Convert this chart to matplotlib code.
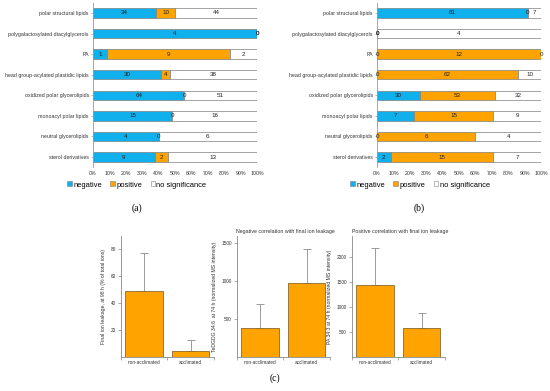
import matplotlib
matplotlib.use("Agg")
import matplotlib.pyplot as plt
from matplotlib.patches import Patch
import numpy as np

plt.rcParams['font.family'] = ['Liberation Sans', 'DejaVu Sans']

categories = ["polar structural lipids", "polygalactosylated diacylglycerols", "PA",
              "head group-acylated plastidic lipids", "oxidized polar glycerolipids",
              "monoacyl polar lipids", "neutral glycerolipids", "sterol derivatives"]
a_neg = [34, 4, 1, 30, 64, 15, 4, 9]
a_pos = [10, 0, 9, 4, 0, 0, 0, 2]
a_ns = [44, 0, 2, 38, 51, 16, 6, 13]
b_neg = [81, 0, 0, 0, 30, 7, 0, 2]
b_pos = [0, 0, 12, 62, 53, 15, 6, 15]
b_ns = [7, 4, 0, 10, 32, 9, 4, 7]

groups = ["non-acclimated", "acclimated"]
leak_mean = [49, 4.5]
leak_err = [28, 8]
tedgdg_mean = [380, 975]
tedgdg_err = [310, 450]
pa_mean = [1445, 590]
pa_err = [745, 290]

BLUE = '#10B0EC'
ORANGE = '#FFA300'
EDGE = '#7f7f7f'
W, H = 550, 391
fig = plt.figure(figsize=(5.5, 3.91), dpi=100)


def ax_px(l, t, r, b):
    return fig.add_axes([l / W, 1 - b / H, (r - l) / W, (b - t) / H])


def stacked(ax, neg, pos, ns):
    neg = np.array(neg, float); pos = np.array(pos, float); ns = np.array(ns, float)
    tot = neg + pos + ns
    pn, pp, ps = neg / tot * 100, pos / tot * 100, ns / tot * 100
    y = np.arange(len(categories))[::-1]
    ax.barh(y, pn, height=0.46, color=BLUE, edgecolor=EDGE, linewidth=0.5)
    ax.barh(y, pp, left=pn, height=0.46, color=ORANGE, edgecolor=EDGE, linewidth=0.5)
    ax.barh(y, ps, left=pn + pp, height=0.46, color='white', edgecolor=EDGE, linewidth=0.5)
    for i in range(len(categories)):
        for val, left, w in [(neg[i], 0, pn[i]), (pos[i], pn[i], pp[i]), (ns[i], pn[i] + pp[i], ps[i])]:
            ax.text(left + w / 2, y[i], f"{int(val)}", ha='center', va='center',
                    fontsize=4.5, color='#222222')
    ax.set_xlim(0, 100)
    ax.set_ylim(-0.5, len(categories) - 0.5)
    ax.set_yticks(y)
    ax.set_yticklabels(categories, fontsize=3.8, color='#333333')
    ax.set_xticks(np.arange(0, 101, 10))
    ax.set_xticklabels([f"{v}%" for v in range(0, 101, 10)], fontsize=3.8, color='#333333')
    for s in ['top', 'right', 'bottom']:
        ax.spines[s].set_visible(False)
    ax.spines['left'].set_color('#999999')
    ax.spines['left'].set_linewidth(0.6)
    ax.tick_params(axis='y', length=1.5, width=0.5, color='#999999', pad=1.5)
    ax.tick_params(axis='x', length=0, pad=3)


axa = ax_px(93, 2.7, 257, 167.3)
stacked(axa, a_neg, a_pos, a_ns)
axb = ax_px(377, 2.7, 541, 167.3)
stacked(axb, b_neg, b_pos, b_ns)

handles = [Patch(facecolor=BLUE, edgecolor=EDGE, linewidth=0.4, label='negative'),
           Patch(facecolor=ORANGE, edgecolor=EDGE, linewidth=0.4, label='positive'),
           Patch(facecolor='white', edgecolor=EDGE, linewidth=0.4, label='no significance')]
for cx in [137 / W, 420 / W]:
    fig.legend(handles=handles, loc='center', bbox_to_anchor=(cx, 1 - 185 / H), ncol=3,
               frameon=False, fontsize=5.4, handlelength=0.6, handleheight=0.6,
               handletextpad=0.2, columnspacing=1.1, borderpad=0)

fig.text(137 / W, 1 - 208 / H, "(a)", ha='center', va='center', fontsize=7,
         family='Liberation Serif')
fig.text(419 / W, 1 - 208 / H, "(b)", ha='center', va='center', fontsize=7,
         family='Liberation Serif')
fig.text(275 / W, 1 - 378 / H, "(c)", ha='center', va='center', fontsize=7,
         family='Liberation Serif')


def barpanel(ax, means, errs, ylim, yticks, ylabel, title=None):
    x = np.arange(len(groups))
    ax.bar(x, means, width=0.8, color=ORANGE, edgecolor='#8a6a30', linewidth=0.6, zorder=2)
    ax.errorbar(x, means, yerr=[[0] * len(errs), errs], fmt='none', ecolor='#8c8c8c',
                elinewidth=0.6, capsize=3, capthick=0.6, zorder=1)
    ax.set_xlim(-0.5, len(groups) - 0.5)
    ax.set_ylim(0, ylim)
    ax.set_xticks(x)
    ax.set_xticklabels(groups, fontsize=3.4, color='#333333')
    ax.set_xticks([-0.5, 0.5, 1.5], minor=True)
    ax.tick_params(axis='x', which='major', length=0, pad=2)
    ax.tick_params(axis='x', which='minor', length=2, width=0.5, color='#888888')
    ax.set_yticks(yticks)
    ax.set_yticklabels([str(v) for v in yticks], fontsize=3.4, color='#333333')
    ax.tick_params(axis='y', length=2, width=0.5, color='#888888', pad=1.5)
    for s in ['top', 'right']:
        ax.spines[s].set_visible(False)
    for s in ['left', 'bottom']:
        ax.spines[s].set_color('#888888')
        ax.spines[s].set_linewidth(0.6)
    ax.set_ylabel(ylabel, fontsize=3.7, color='#333333', labelpad=3)
    if title:
        ax.text(0, 1.015, title, transform=ax.transAxes, fontsize=3.8, color='#333333',
                ha='left', va='bottom')


c1 = ax_px(120.5, 236, 214, 357)
barpanel(c1, leak_mean, leak_err, 90, [20, 40, 60, 80],
         "Final ion leakage, at 98 h (% of total ions)")
c2 = ax_px(236.5, 236, 330, 357)
barpanel(c2, tedgdg_mean, tedgdg_err, 1590, [500, 1000, 1500],
         "TeDGDG 34:6  at 74 h (normalized MS intensity)",
         "Negative correlation with final ion leakage")
c3 = ax_px(351.5, 236, 445, 357)
barpanel(c3, pa_mean, pa_err, 2420, [500, 1000, 1500, 2000],
         "PA 34:3 at 74 h (normalized MS intensity)",
         "Positive correlation with final ion leakage")

fig.savefig("out.png", dpi=100)
